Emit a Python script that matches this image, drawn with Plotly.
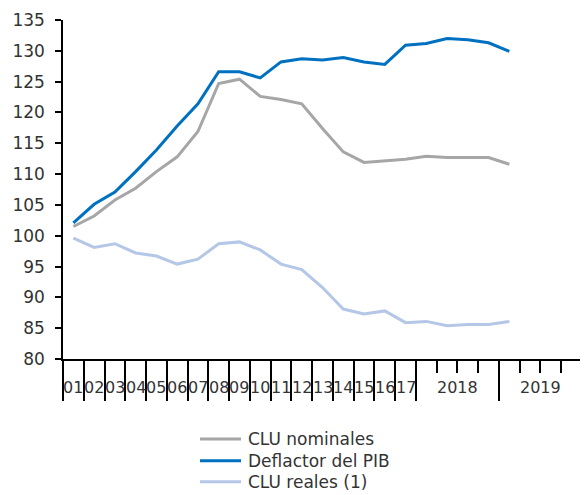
import plotly.graph_objects as go

# x slots: 17 annual points (2001-2017), then quarters of 2018 and 2019 Q1
periods = ['01', '02', '03', '04', '05', '06', '07', '08', '09', '10', '11', '12',
           '13', '14', '15', '16', '17', '18T1', '18T2', '18T3', '18T4', '19T1']
clu_nominales = [101.5, 103.2, 105.8, 107.7, 110.4, 112.8, 116.9, 124.7, 125.4, 122.6, 122.1,
                 121.4, 117.4, 113.6, 111.9, 112.2, 112.4, 112.9, 112.7, 112.7, 112.7, 111.6]
deflactor_pib = [102.1, 105.1, 107.1, 110.4, 113.9, 117.8, 121.4, 126.6, 126.6, 125.6, 128.2,
                 128.7, 128.5, 128.9, 128.2, 127.8, 130.9, 131.2, 132.0, 131.8, 131.3, 129.9]
clu_reales = [99.6, 98.1, 98.7, 97.2, 96.7, 95.4, 96.2, 98.7, 99.0, 97.7, 95.4,
              94.5, 91.6, 88.1, 87.3, 87.8, 85.9, 86.1, 85.4, 85.6, 85.6, 86.1]

axis_labels = ['01', '02', '03', '04', '05', '06', '07', '08', '09', '10', '11', '12',
               '13', '14', '15', '16', '17', '2018', '2019']
axis_label_pos = [i + 0.5 for i in range(17)] + [19, 23]
major_ticks = list(range(18)) + [21, 25]
minor_ticks = [18, 19, 20, 22, 23, 24]

series_names = ['CLU nominales', 'Deflactor del PIB', 'CLU reales (1)']
series_colors = ['#A6A6A6', '#0070C0', '#B4C7E7']
series_values = [clu_nominales, deflactor_pib, clu_reales]

x = [i + 0.5 for i in range(len(periods))]
font_name = 'DejaVu Sans'
text_color = '#333333'

fig = go.Figure()
for name, color, vals in zip(series_names, series_colors, series_values):
    fig.add_trace(go.Scatter(x=x, y=vals, mode='lines', name=name,
                             line=dict(color=color, width=3), showlegend=False))

# category labels under the axis
for lab, pos in zip(axis_labels, axis_label_pos):
    fig.add_annotation(x=pos, y=-0.084, xref='x', yref='paper', text=lab, showarrow=False,
                       font=dict(family=font_name, size=16, color=text_color),
                       xanchor='center', yanchor='middle')

# legend drawn by hand below the chart (rows are tighter than plotly's own legend)
legend_rows = [-0.236, -0.300, -0.362]
for name, color, ly in zip(series_names, series_colors, legend_rows):
    fig.add_shape(type='line', xref='paper', yref='paper', x0=0.264, x1=0.343, y0=ly, y1=ly,
                  line=dict(color=color, width=3))
    fig.add_annotation(x=0.353, y=ly, xref='paper', yref='paper', text=name, showarrow=False,
                       font=dict(family=font_name, size=17, color=text_color),
                       xanchor='left', yanchor='middle')

# the page has an 8px body margin, so the figure is 8px smaller than the window
fig.update_layout(
    width=580, height=487,
    margin=dict(l=55, r=6, t=12, b=136, autoexpand=False),
    paper_bgcolor='white', plot_bgcolor='white',
    font=dict(family=font_name, size=17, color=text_color),
    showlegend=False,
    xaxis=dict(range=[0, 25], showgrid=False, zeroline=False,
               showline=True, linecolor='black', linewidth=1.5,
               tickmode='array', tickvals=major_ticks, showticklabels=False,
               ticks='outside', ticklen=40, tickwidth=1.5, tickcolor='black',
               minor=dict(tickmode='array', tickvals=minor_ticks, ticks='outside',
                          ticklen=12, tickwidth=1.5, tickcolor='black', showgrid=False)),
    yaxis=dict(range=[80, 135], dtick=5, showgrid=False, zeroline=False,
               showline=True, linecolor='black', linewidth=1.5,
               ticks='outside', ticklen=6, tickwidth=1.5, tickcolor='black',
               ticklabelstandoff=7,
               tickfont=dict(family=font_name, size=17, color=text_color)),
)

fig.write_html("out.html")
